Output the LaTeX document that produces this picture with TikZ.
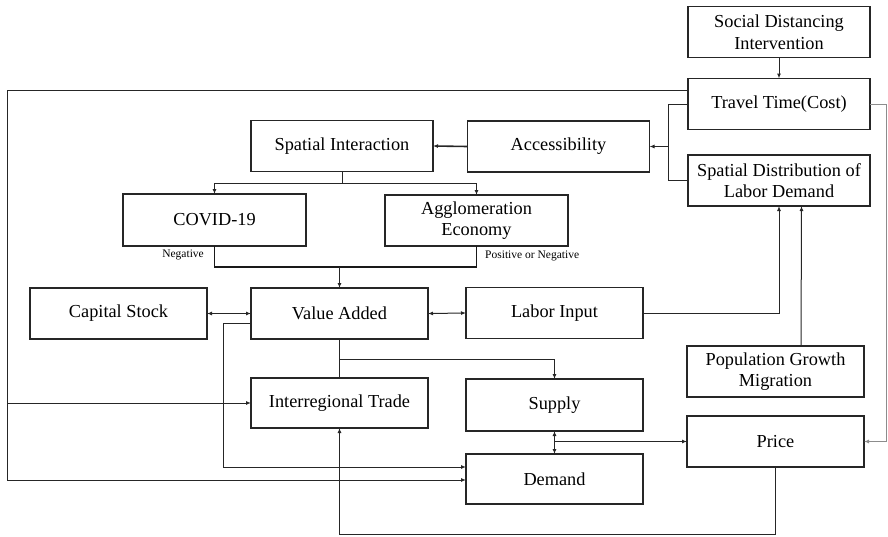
\documentclass[tikz,border=0pt]{standalone}
\usepackage{fontspec}
\setmainfont{Liberation Serif}
\usetikzlibrary{arrows.meta}
\begin{document}
\begin{tikzpicture}[x=1pt,y=-1pt,
  box/.style={draw=black!85, line width=1.1pt, inner sep=0pt, outer sep=0pt, align=center,
    minimum width=177pt, minimum height=51pt, font=\fontsize{18.3}{21.5}\selectfont},
  wbox/.style={box, minimum width=182pt},
  ln/.style={draw=black!85, line width=1pt},
  thk/.style={draw=black!90, line width=1.7pt},
  arr/.style={ln, -{Latex[length=5pt,width=4pt]}},
  darr/.style={ln, {Latex[length=5pt,width=4pt]}-{Latex[length=5pt,width=4pt]}},
  lbl/.style={font=\fontsize{11.5}{13}\selectfont, inner sep=0pt}]
\useasboundingbox (0,0) rectangle (888,536);
% boxes
\node[wbox] (sdi) at (779,32) {Social Distancing\\Intervention};
\node[wbox] (ttc) at (779,104) {Travel Time(Cost)};
\node[wbox] (sdl) at (779,180.5) {Spatial Distribution of\\Labor Demand};
\node[wbox] (acc) at (558.5,146.5) {Accessibility};
\node[wbox] (si) at (342,146) {Spatial Interaction};
\node[wbox, minimum width=183pt, minimum height=52pt] (cov) at (214.5,220) {COVID-19};
\node[wbox, minimum width=183pt] (agg) at (476.5,220.5) {Agglomeration\\Economy};
\node[box] (cap) at (118.5,313.5) {Capital Stock};
\node[box] (va) at (339.5,313.5) {Value Added};
\node[box] (li) at (554.5,313) {Labor Input};
\node[box] (pop) at (775.5,371.5) {Population Growth\\Migration};
\node[box, minimum height=50pt] (it) at (339.5,403) {Interregional Trade};
\node[box, minimum height=52pt] (sup) at (554.5,405) {Supply};
\node[box] (price) at (775.5,441.5) {Price};
\node[box, minimum height=50pt] (dem) at (554.5,479) {Demand};
% labels
\node[lbl, anchor=east] (neg) at (204,255) {Negative};
\node[lbl, anchor=west] (pos) at (485,256) {Positive or Negative};
% connectors
\draw[arr] (sdi.south) -- (ttc.north);
\draw[arr] ([yshift=14pt]ttc.west) -| (7,480) -- ([yshift=-1pt]dem.west);
\draw[arr] (7,403) -- (it.west);
\draw[ln] (ttc.west) -- (668,104) |- (sdl.west);
\draw[arr] (668,146.5) -- (acc.east);
\draw[arr, line width=1.6pt] (acc.west) -- (si.east);
\draw[ln] (si.south) -- (342,183);
\draw[arr] (342,183) -| (cov.north);
\draw[arr] (342,183) -| (agg.north);
\draw[thk] (cov.south) |- (339.5,267);
\draw[thk] (agg.south) |- (339.5,267);
\draw[arr, line width=1.6pt] (339.5,267) -- (va.north);
\draw[darr] (cap.east) -- (va.west);
\draw[darr] (va.east) -- (li.west);
\draw[arr] (li.east) -| (sdl.south);
\draw[arr] ([xshift=25.5pt]pop.north) -- ([xshift=22.5pt]sdl.south);
\draw[ln] (va.south) -- (it.north);
\draw[arr] (339.5,359) -| (sup.north);
\draw[arr] ([yshift=-9.5pt]va.west) -| (223,467) -- ([yshift=12pt]dem.west);
\draw[darr] (sup.south) -- (dem.north);
\draw[arr] (554.5,441.5) -- (price.west);
\draw[arr] (price.south) |- (339.5,534) -- (it.south);
\draw[arr, draw=black!45] (ttc.east) -| (886,441.5) -- (price.east);
\end{tikzpicture}
\end{document}
